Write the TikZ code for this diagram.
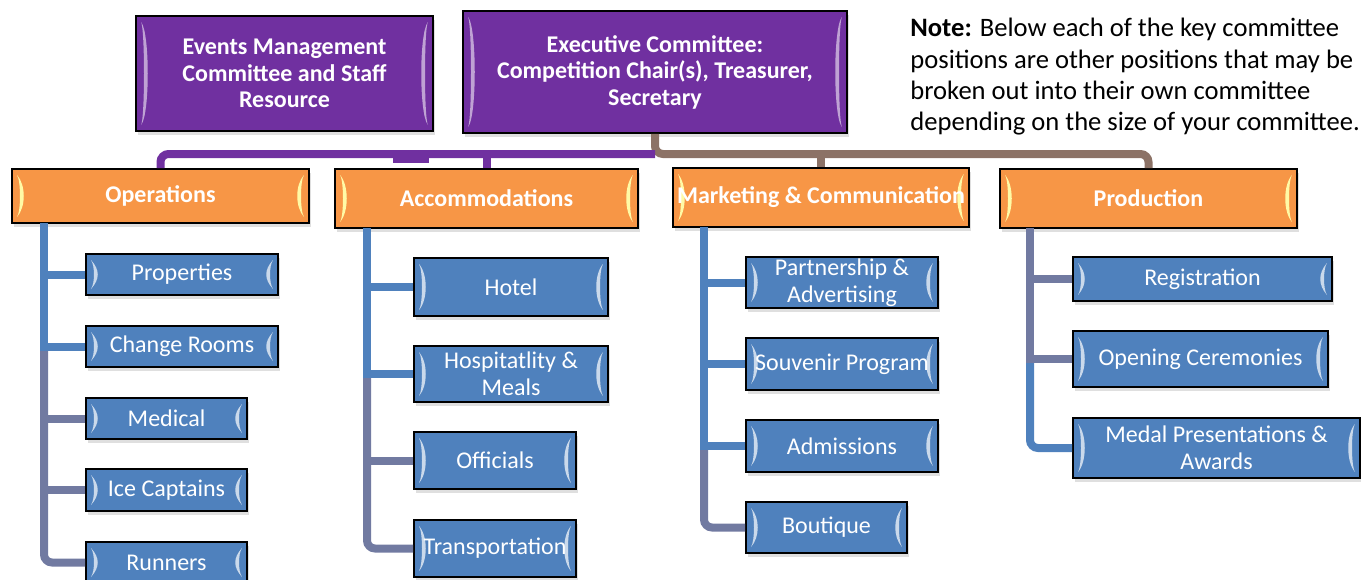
\documentclass[tikz,border=0pt]{standalone}
\usepackage{fontspec}
\setmainfont{Carlito}
\usetikzlibrary{shadows}
\definecolor{exPurple}{HTML}{7030A0}
\definecolor{deptOrange}{HTML}{F79646}
\definecolor{roleBlue}{HTML}{4F81BD}
\definecolor{trunkGray}{HTML}{717AA1}
\definecolor{busBrown}{HTML}{8C7266}
\tikzset{
  bevel/.style={path picture={
      \fill[#1] ([shift={(2.5pt,-3pt)}]path picture bounding box.north west)
        .. controls ([shift={(7pt,-8pt)}]path picture bounding box.north west) and ([shift={(7pt,8pt)}]path picture bounding box.south west)
        .. ([shift={(2.5pt,3pt)}]path picture bounding box.south west)
        .. controls ([shift={(4.5pt,6pt)}]path picture bounding box.south west) and ([shift={(4.5pt,-6pt)}]path picture bounding box.north west)
        .. cycle;
      \fill[#1] ([shift={(-2.5pt,-3pt)}]path picture bounding box.north east)
        .. controls ([shift={(-7pt,-8pt)}]path picture bounding box.north east) and ([shift={(-7pt,8pt)}]path picture bounding box.south east)
        .. ([shift={(-2.5pt,3pt)}]path picture bounding box.south east)
        .. controls ([shift={(-4.5pt,6pt)}]path picture bounding box.south east) and ([shift={(-4.5pt,-6pt)}]path picture bounding box.north east)
        .. cycle;
    }},
  boxbase/.style={draw=black, line width=0.8pt, inner sep=0pt, align=center, text=white,
    drop shadow={shadow xshift=1.2pt, shadow yshift=-1.8pt, opacity=0.25}},
  topbox/.style={boxbase, fill=exPurple, font=\bfseries\fontsize{12}{13.25}\selectfont, bevel=exPurple!45!white},
  deptbox/.style={boxbase, fill=deptOrange, font=\bfseries\fontsize{12}{14}\selectfont, bevel=yellow!35!white},
  rolebox/.style={boxbase, fill=roleBlue, font=\fontsize{12}{13.5}\selectfont, bevel=roleBlue!30!white},
  link/.style={line width=4pt},
}
\begin{document}
\begin{tikzpicture}[x=0.5pt, y=-0.5pt]
\useasboundingbox (0,0) rectangle (1361,579);
\clip (0,0) rectangle (1361,579);
% top row
\node[topbox, minimum width=148.5pt, minimum height=57.5pt] (ev) at (284.5,73.5) {Events Management\\Committee and Staff\\Resource};
\node[topbox, minimum width=192pt, minimum height=61pt] (ex) at (655,72) {Executive Committee:\\Competition Chair(s), Treasurer,\\Secretary};
\node[anchor=north west, align=left, inner sep=0pt, font=\fontsize{13.3}{15.6}\selectfont] (note) at (910,18) {\textbf{Note:} Below each of the key committee\\positions are other positions that may be\\broken out into their own committee\\depending on the size of your committee.};
% departments
\node[deptbox, minimum width=148.5pt, minimum height=27pt] (ops) at (160.5,196) {Operations};
\node[deptbox, minimum width=151.5pt, minimum height=29.5pt] (acc) at (486.5,198.5) {Accommodations};
\node[deptbox, minimum width=148pt, minimum height=29.5pt] (mkt) at (821,197.5) {Marketing \& Communication};
\node[deptbox, minimum width=148.5pt, minimum height=29.5pt] (prod) at (1148.5,198.5) {Production};
% operations
\node[rolebox, minimum width=96pt, minimum height=20.5pt] (prop) at (182,274.5) {Properties};
\node[rolebox, minimum width=96pt, minimum height=20.5pt] (chg) at (182,346.5) {Change Rooms};
\node[rolebox, minimum width=80.5pt, minimum height=20.5pt] (med) at (166.5,418.5) {Medical};
\node[rolebox, minimum width=80.5pt, minimum height=21pt] (ice) at (166.5,490) {Ice Captains};
\node[rolebox, minimum width=80.5pt, minimum height=20.5pt] (run) at (166.5,562.5) {Runners};
% accommodations
\node[rolebox, minimum width=97pt, minimum height=29pt] (hot) at (511,287) {Hotel};
\node[rolebox, minimum width=97pt, minimum height=28pt] (hosp) at (511,374) {Hospitatlity \&\\Meals};
\node[rolebox, minimum width=81pt, minimum height=28.5pt] (off) at (495,460.5) {Officials};
\node[rolebox, minimum width=81pt, minimum height=28.5pt] (trans) at (495,548.5) {Transportation};
% marketing
\node[rolebox, minimum width=96pt, minimum height=25.5pt] (part) at (842,282.5) {Partnership \&\\Advertising};
\node[rolebox, minimum width=96pt, minimum height=26pt] (souv) at (842,364) {Souvenir Program};
\node[rolebox, minimum width=96pt, minimum height=26pt] (adm) at (842,446) {Admissions};
\node[rolebox, minimum width=80.5pt, minimum height=25.5pt] (bout) at (826.5,527.5) {Boutique};
% production
\node[rolebox, minimum width=129.5pt, minimum height=22pt] (reg) at (1202.5,279) {Registration};
\node[rolebox, minimum width=127.5pt, minimum height=28pt] (open) at (1200.5,359) {Opening Ceremonies};
\node[rolebox, minimum width=143.5pt, minimum height=30pt] (medal) at (1216.5,448) {Medal Presentations \&\\Awards};
% bus lines
\coordinate (bus) at (655,154);
\draw[link, busBrown, rounded corners=4pt] (ex.south) -- (bus) -| (prod.north);
\draw[link, busBrown] (mkt.north) -- (mkt.north |- bus);
\draw[link, exPurple, rounded corners=4pt] (ops.north) |- (bus);
\draw[link, exPurple] (acc.north) -- (acc.north |- bus);
\fill[exPurple] (393,157) rectangle (429,163);
% operations trunk
\coordinate (opst) at (44,223);
\draw[link, trunkGray, rounded corners=4pt] (opst |- chg.west) |- (run.west);
\draw[link, trunkGray] (opst |- med.west) -- (med.west);
\draw[link, trunkGray] (opst |- ice.west) -- (ice.west);
\draw[link, roleBlue] (opst) |- (prop.west);
\draw[link, roleBlue] (opst) |- (chg.west);
% accommodations trunk
\coordinate (acct) at (367,228);
\draw[link, trunkGray, rounded corners=4pt] (acct |- hosp.west) |- (trans.west);
\draw[link, trunkGray] (acct |- off.west) -- (off.west);
\draw[link, roleBlue] (acct) |- (hot.west);
\draw[link, roleBlue] (acct) |- (hosp.west);
% marketing trunk
\coordinate (mktt) at (704,227);
\draw[link, trunkGray, rounded corners=4pt] (mktt |- adm.west) |- (bout.west);
\draw[link, roleBlue] (mktt) |- (part.west);
\draw[link, roleBlue] (mktt) |- (souv.west);
\draw[link, roleBlue] (mktt) |- (adm.west);
% production trunk
\coordinate (prodt) at (1030,228);
\draw[link, roleBlue, rounded corners=4pt] (prodt |- open.west) |- (medal.west);
\draw[link, trunkGray] (prodt) |- (reg.west);
\draw[link, trunkGray] (prodt) |- (open.west);
\end{tikzpicture}
\end{document}
